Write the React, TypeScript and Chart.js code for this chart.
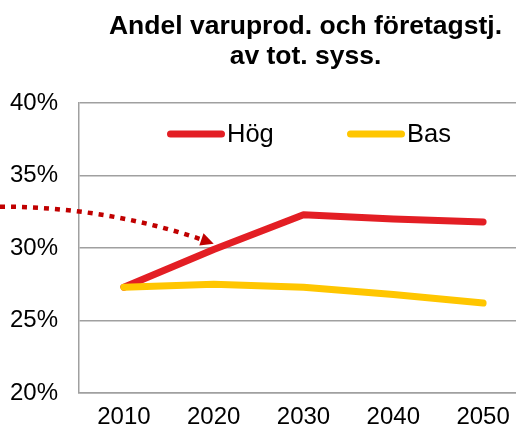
import React, { useEffect, useRef } from "react";
import { Chart, registerables } from "chart.js";

Chart.register(...registerables);

// ---- data ----
const years = ["2010", "2020", "2030", "2040", "2050"];
const hogValues = [27.3, 29.9, 32.3, 32.0, 31.8];
const basValues = [27.3, 27.5, 27.3, 26.8, 26.2];
const seriesLabels = ["Hög", "Bas"];
const seriesColors = ["#e31e24", "#ffc600"];
const titleLines = ["Andel varuprod. och företagstj.", "av tot. syss."];
const yMin = 20;
const yMax = 40;
const yStep = 5;
// dotted arrow annotation, in data space: [category index, value]
const arrowStart = [-1.38, 32.85];
const arrowControl = [-0.19, 32.85];
const arrowEnd = [1.0, 30.3];

const FONT = "'Liberation Sans', Arial, sans-serif";
const CANVAS_W = 532;
const CANVAS_H = 432;

const decorPlugin = {
  id: "decor",
  afterDatasetsDraw(chart: any) {
    const ctx = chart.ctx;
    const xs = chart.scales.x;
    const ys = chart.scales.y;
    const p = (a: number[]) => [xs.getPixelForValue(a[0]), ys.getPixelForValue(a[1])];
    const s = p(arrowStart);
    const c = p(arrowControl);
    const e = p(arrowEnd);
    const ang = Math.atan2(e[1] - c[1], e[0] - c[0]);
    const headLen = 13;
    const headHalf = 6.5;
    ctx.save();
    ctx.strokeStyle = "#c00000";
    ctx.lineWidth = 4.5;
    ctx.setLineDash([5, 6]);
    ctx.lineCap = "butt";
    ctx.beginPath();
    ctx.moveTo(s[0], s[1]);
    const bx = e[0] - Math.cos(ang) * headLen * 0.7;
    const by = e[1] - Math.sin(ang) * headLen * 0.7;
    ctx.quadraticCurveTo(c[0], c[1], bx, by);
    ctx.stroke();
    ctx.setLineDash([]);
    ctx.fillStyle = "#c00000";
    ctx.beginPath();
    ctx.moveTo(e[0], e[1]);
    const baseX = e[0] - Math.cos(ang) * headLen;
    const baseY = e[1] - Math.sin(ang) * headLen;
    ctx.lineTo(baseX + Math.sin(ang) * headHalf, baseY - Math.cos(ang) * headHalf);
    ctx.lineTo(baseX - Math.sin(ang) * headHalf, baseY + Math.cos(ang) * headHalf);
    ctx.closePath();
    ctx.fill();
    ctx.restore();
  },
  afterDraw(chart: any) {
    const ctx = chart.ctx;
    const area = chart.chartArea;
    ctx.save();
    // title
    const cx = (area.left + area.right) / 2 + 2;
    ctx.fillStyle = "#000";
    ctx.font = `bold 26.5px ${FONT}`;
    ctx.textAlign = "center";
    ctx.textBaseline = "alphabetic";
    ctx.fillText(titleLines[0], cx, 34);
    ctx.fillText(titleLines[1], cx, 64);
    // legend
    const ly = area.top + 31;
    const offsets = [88, 268];
    ctx.font = `25.5px ${FONT}`;
    ctx.textAlign = "left";
    ctx.textBaseline = "middle";
    chart.data.datasets.forEach((ds: any, i: number) => {
      const x0 = area.left + offsets[i];
      ctx.strokeStyle = ds.borderColor;
      ctx.lineWidth = 7;
      ctx.lineCap = "round";
      ctx.beginPath();
      ctx.moveTo(x0 + 3.5, ly);
      ctx.lineTo(x0 + 54.5, ly);
      ctx.stroke();
      ctx.fillStyle = "#000";
      ctx.fillText(ds.label, x0 + 60, ly + 1);
    });
    ctx.restore();
  },
};

export default function App() {
  const ref = useRef<HTMLCanvasElement | null>(null);
  useEffect(() => {
    if (!ref.current) return;
    const chart = new Chart(ref.current, {
      type: "line",
      data: {
        labels: years,
        datasets: [
          {
            label: seriesLabels[0],
            data: hogValues,
            borderColor: seriesColors[0],
            backgroundColor: seriesColors[0],
            borderWidth: 7,
            borderCapStyle: "round",
            borderJoinStyle: "round",
            pointRadius: 0,
            tension: 0,
            order: 1,
          },
          {
            label: seriesLabels[1],
            data: basValues,
            borderColor: seriesColors[1],
            backgroundColor: seriesColors[1],
            borderWidth: 7,
            borderCapStyle: "round",
            borderJoinStyle: "round",
            pointRadius: 0,
            tension: 0,
            order: 0,
          },
        ],
      },
      options: {
        responsive: false,
        animation: false,
        devicePixelRatio: 1,
        layout: { padding: { top: 103, right: CANVAS_W - 528, bottom: 0, left: 0 } },
        plugins: {
          legend: { display: false },
          title: { display: false },
          tooltip: { enabled: false },
        },
        scales: {
          x: {
            type: "category",
            offset: true,
            grid: { display: false, drawTicks: false },
            border: { display: true, color: "#a0a0a0", width: 1.5 },
            ticks: {
              color: "#000",
              font: { family: FONT, size: 24 },
              padding: 10,
              maxRotation: 0,
            },
            afterFit: (scale: any) => {
              scale.height = CANVAS_H - 393;
            },
          },
          y: {
            min: yMin,
            max: yMax,
            grid: { color: "#a0a0a0", lineWidth: 1.5, drawTicks: false },
            border: { display: true, color: "#a0a0a0", width: 1.5 },
            ticks: {
              stepSize: yStep,
              color: "#000",
              font: { family: FONT, size: 24 },
              padding: 21,
              callback: (v: any) => `${v}%`,
            },
            afterFit: (scale: any) => {
              scale.width = 79;
            },
          },
        },
      },
      plugins: [decorPlugin],
    });
    return () => chart.destroy();
  }, []);
  return (
    <div
      style={{
        position: "fixed",
        left: 0,
        top: 0,
        width: 516,
        height: 432,
        overflow: "hidden",
        background: "#fff",
      }}
    >
      <canvas
        ref={ref}
        width={CANVAS_W}
        height={CANVAS_H}
        style={{ width: CANVAS_W, height: CANVAS_H, display: "block" }}
      />
    </div>
  );
}
